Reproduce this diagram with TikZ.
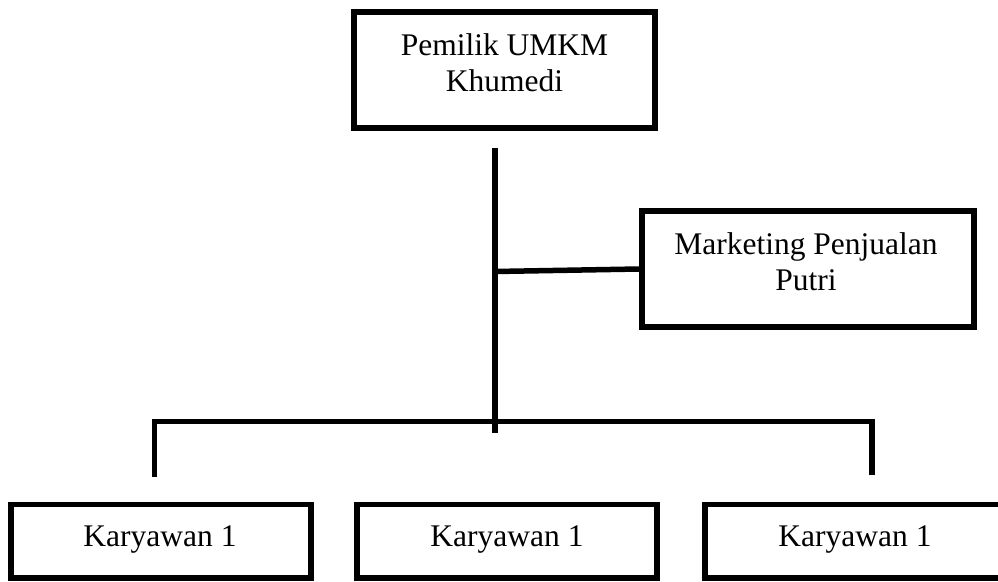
\documentclass[tikz,border=0pt]{standalone}
\usepackage{fontspec}
\setmainfont{Liberation Serif}
\begin{document}
\begin{tikzpicture}[x=1pt,y=-1pt,
  box/.style={shape=rectangle,draw,line width=6pt,inner sep=0pt,minimum height=116pt},
  karya/.style={shape=rectangle,draw,line width=5.5pt,inner sep=0pt,minimum width=300pt,minimum height=73.5pt},
  boxtext/.style={inner sep=0pt,align=center,font=\fontsize{31.5}{36}\selectfont},
  link/.style={line width=5.5pt}]
\useasboundingbox (0,0) rectangle (998,581);
\node (owner)     at (504.25,70) [box,minimum width=300.5pt] {};
\node (marketing) at (808,269)   [box,minimum width=332pt] {};
\node (k1) at (161,541.25) [karya] {};
\node (k2) at (507,541.25) [karya] {};
\node (k3) at (855,541.25) [karya] {};
\node (owner text)     at (504.5,33.5) [boxtext,anchor=north] {Pemilik UMKM\\Khumedi};
\node (marketing text) at (806,232)    [boxtext,anchor=north] {Marketing Penjualan\\Putri};
\node (k1 text) at (160,546.7) [boxtext,anchor=base] {Karyawan 1};
\node (k2 text) at (507,546.7) [boxtext,anchor=base] {Karyawan 1};
\node (k3 text) at (855,546.7) [boxtext,anchor=base] {Karyawan 1};
\coordinate (trunk top) at (495,148);
\coordinate (trunk end) at (495,433);
\coordinate (branch)    at (495,271.5);
\coordinate (bar)       at (495,421.5);
\coordinate (drop1)     at (154.5,476.5);
\coordinate (drop3)     at (872,475);
\draw [link] (trunk top) -- (trunk end);
\draw [link] (branch) -- (marketing.west);
\draw [link] (drop1) |- (bar) -| (drop3);
\end{tikzpicture}
\end{document}
